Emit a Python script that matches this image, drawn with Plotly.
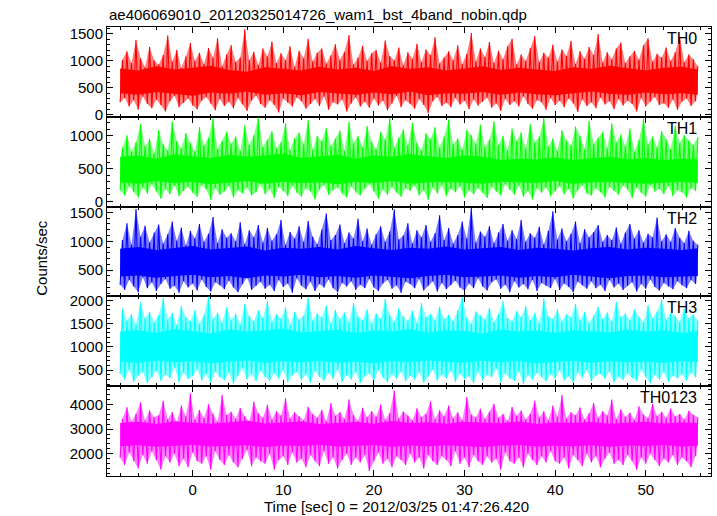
import plotly.graph_objects as go
from plotly.subplots import make_subplots

title_text = "ae406069010_20120325014726_wam1_bst_4band_nobin.qdp"
x_title = "Time [sec] 0 = 2012/03/25 01:47:26.420"
y_title = "Counts/sec"
t_start = -8.0
t_step = 0.25
t_end = 55.75
core_step = 2.0

panel_names = ["TH0", "TH1", "TH2", "TH3", "TH0123"]
panel_colors = ["#ff0000", "#00ff00", "#0000ff", "#00ffff", "#ff00ff"]
halo_colors = ["rgba(255,0,0,0.5)", "rgba(0,255,0,0.5)", "rgba(0,0,255,0.5)",
               "rgba(0,255,255,0.5)", "rgba(255,0,255,0.5)"]

th0 = [230,1020,310,1180,150,960,270,1390,90,1050,340,880,200,1260,120,1010,
280,930,180,1110,60,1470,250,990,350,1200,140,870,220,1080,300,1330,
170,1000,100,1150,260,940,330,1240,210,1060,80,1420,290,900,160,1120,
240,1290,120,980,310,1060,190,1590,70,1010,260,1170,350,920,200,1230,
130,1080,270,1360,180,960,40,1140,300,1010,220,1270,150,890,320,1190,
250,1050,110,1410,200,990,290,1150,160,1230,340,950,90,1100,230,1310,
190,1020,280,1170,60,1480,210,930,320,1060,150,1280,240,1000,130,1140,
300,1200,170,970,260,1380,80,1090,210,1010,350,1250,140,920,270,1160,
200,1040,110,1320,290,980,180,1210,30,1110,250,1440,330,950,160,1060,
220,1180,140,1010,310,1290,190,940,260,1130,100,1520,280,990,170,1230,
240,1070,320,1350,130,960,210,1190,70,1030,290,1270,180,1410,250,930,
150,1120,340,1000,200,1240,110,1460,270,980,230,1150,90,1060,310,1300,
180,990,260,1210,140,1090,300,1370,210,940,50,1180,280,1040,160,1260,
230,1110,120,1500,320,970,190,1160,250,1030,100,1230,290,1340,170,960,
260,1080,200,1190,60,1020,310,1290,150,1420,240,990,330,1130,180,1060,
210,1250,130,1000,280,1160,90,1440,240,980,300,1120,160,1030,250,900]

th1 = [170,820,90,1010,230,760,140,900,60,1180,210,840,120,950,260,730,
150,1090,40,870,190,780,110,1220,240,920,80,810,160,1040,220,890,
130,760,70,1130,250,850,180,970,20,1270,200,800,100,920,150,1060,
230,880,60,990,170,770,120,1160,210,860,90,1010,140,1280,260,830,
110,940,190,1070,50,810,220,900,160,1190,80,780,240,960,130,1050,
70,870,200,1240,150,790,30,1000,180,920,250,1120,100,840,170,960,
210,1080,120,770,60,1210,230,890,140,1000,90,830,190,1150,260,910,
150,800,40,1060,180,940,100,1270,220,820,130,970,70,1100,200,860,
160,1200,240,890,90,780,170,1040,20,950,210,1130,120,820,250,990,
80,1250,190,870,140,960,230,790,60,1090,170,1010,110,880,200,1170,
130,830,50,940,220,1220,150,860,90,1000,260,780,180,1110,100,920,
240,1050,70,810,160,1180,30,900,200,990,130,1270,210,840,80,960,
150,770,230,1080,110,930,190,850,40,1140,170,1000,250,790,120,1230,
90,880,200,970,140,1060,60,810,220,1190,160,900,100,1020,240,840,
180,1110,50,760,210,940,130,1260,70,870,250,990,150,820,190,1070,
110,950,230,800,80,1150,170,890,140,1010,60,930,200,860,160,980]

th2 = [250,1020,160,1310,330,940,220,1560,120,1080,380,1270,190,980,290,1150,
140,1290,260,960,350,1120,180,1340,230,1010,110,1240,310,930,200,1180,
270,1050,150,1300,340,990,210,1130,130,1420,290,970,240,1210,170,1060,
320,1140,200,1000,120,1330,260,950,380,1190,160,1070,230,1280,300,980,
180,1230,250,1010,140,1120,330,1370,210,940,270,1160,110,1050,360,1260,
230,990,170,1350,300,1080,140,950,260,1200,200,1480,340,1020,190,1110,
120,1290,280,970,220,1150,310,1050,160,1390,250,1000,190,1220,350,940,
200,1120,140,1260,270,990,330,1170,180,1550,240,1030,110,1100,300,1310,
260,960,190,1190,350,1070,150,1280,230,990,310,1140,130,1450,280,1020,
170,1230,240,960,320,1110,200,1340,140,1050,270,1580,190,980,360,1170,
220,1080,150,1260,290,970,340,1150,180,1300,250,1010,120,1190,310,1040,
200,1370,260,990,170,1140,330,1060,140,1250,280,950,230,1180,190,1520,
350,1030,160,1220,270,1000,210,1130,120,1340,300,970,240,1210,180,1070,
310,1160,190,1280,250,990,140,1110,330,1020,200,1240,270,960,160,1150,
230,1300,290,1050,130,1190,260,980,180,1130,340,1070,210,1410,150,1000,
280,1120,220,990,170,1230,310,1060,240,970,190,1180,330,1010,260,940]

th3 = [420,1820,300,1560,510,1700,250,1480,380,1960,460,1610,220,1750,350,1530,
490,1680,270,2050,400,1590,330,1730,560,1470,240,1880,440,1640,310,1550,
370,1790,520,1500,280,1690,410,2080,230,1600,470,1740,340,1520,290,1850,
450,1580,210,1710,380,1490,540,1920,300,1660,420,1550,260,1780,490,1620,
350,1990,270,1540,430,1700,320,1610,500,1850,240,1480,390,1750,460,1590,
290,1670,410,2060,230,1560,480,1720,360,1630,270,1890,440,1510,310,1800,
520,1600,250,1740,390,1530,300,1950,460,1660,220,1570,370,1810,430,1500,
280,1720,500,1610,340,2030,240,1690,410,1540,320,1830,470,1650,260,1560,
380,1780,300,1520,450,1940,230,1640,360,1710,510,1580,270,1870,400,1600,
330,1690,480,1550,250,1790,420,2070,310,1620,370,1500,220,1760,460,1680,
290,1590,400,1840,350,1530,530,1710,240,1980,430,1620,320,1550,270,1770,
470,1640,210,1880,390,1570,300,1730,440,1510,350,2040,260,1660,410,1600,
320,1810,490,1540,280,1700,370,1630,230,1920,450,1580,340,1750,500,1520,
260,1670,380,1860,420,1600,310,1740,470,1550,240,1970,360,1640,290,1710,
430,1570,330,1800,270,1650,510,1530,350,1890,220,1620,400,1760,300,2010,
460,1590,250,1730,380,1660,320,1540,410,1820,280,1610,440,1700,350,1560]

th0123 = [1850,3420,1550,3880,2050,3300,1700,3620,1400,4080,1950,3350,1600,3750,2100,3480,
1750,3560,1350,4150,1900,3400,1650,3690,2000,3280,1500,3950,1800,3520,1450,4450,
2050,3380,1700,3770,1600,3450,1900,4000,1350,3620,2100,3300,1750,4380,1550,3570,
1950,3700,1650,3420,1450,3850,1800,3520,2150,3310,1500,4100,1850,3640,1700,3460,
1600,3980,2000,3390,1350,3720,1750,3550,1900,4250,1550,3430,2050,3680,1650,3520,
1800,3360,1450,3900,1950,3610,1700,3460,1500,3780,2100,3320,1600,4050,1850,3540,
1400,3690,1750,3410,2000,4200,1550,3580,1850,3340,1650,3860,1950,3470,1300,3730,
1700,3500,2050,3990,1600,3380,1800,3650,1450,4560,1900,3430,1750,3710,1550,3550,
2000,3360,1650,3840,1850,3490,1400,3620,1950,4120,1700,3400,1550,3760,1900,3530,
1750,3950,1500,3440,2100,3680,1600,3370,1850,4300,1450,3590,1950,3480,1700,3820,
1550,3420,1900,3700,1650,4020,1800,3460,1350,3610,2050,3330,1700,3890,1600,3540,
1850,3750,1450,3400,2000,3620,1750,4150,1550,3480,1900,3720,1650,3360,2100,3950,
1700,3510,1600,4380,1850,3430,1400,3680,1950,3560,1750,3870,1500,3390,2000,3640,
1650,4050,1900,3460,1450,3730,1800,3550,2050,4200,1600,3410,1750,3800,1550,3500,
1950,3660,1700,3380,1350,3920,1850,3590,1600,3450,2000,4010,1750,3530,1500,3700,
1800,3460,1650,3830,1950,3520,1550,3610,1850,3400,1700,3740,1450,3580,1900,3480]

# dense (solid) core of each band, read every 2 s: upper and lower edges
th0_core_hi = [860,820,900,840,870,910,830,800,880,850,820,890,840,870,810,900,850,880,820,860,900,830,870,840,810,880,850,910,860,820,870,890,840]
th0_core_lo = [400,370,420,380,350,410,390,430,370,400,360,420,390,370,410,380,430,360,400,390,420,370,410,380,360,400,430,390,370,410,380,400,370]
th1_core_hi = [680,700,650,720,690,660,710,680,700,730,660,690,710,650,700,680,720,690,660,700,680,630,650,640,670,630,650,680,640,660,630,650,640]
th1_core_lo = [290,270,310,280,300,260,290,310,270,300,280,290,260,300,280,310,270,290,300,280,270,300,290,280,310,270,290,300,280,270,290,300,280]
th2_core_hi = [870,900,850,890,920,860,880,910,840,890,870,900,860,920,880,850,890,870,910,860,880,900,850,890,870,840,880,900,860,890,870,850,880]
th2_core_lo = [390,410,370,400,420,380,400,360,410,390,420,380,400,370,410,390,360,400,420,380,390,410,370,400,380,420,390,360,400,410,380,390,400]
th3_core_hi = [1330,1360,1300,1380,1340,1290,1370,1330,1350,1390,1310,1340,1370,1300,1350,1330,1380,1310,1360,1340,1290,1370,1330,1350,1300,1360,1340,1310,1370,1330,1350,1300,1340]
th3_core_lo = [680,660,700,670,690,650,680,710,660,690,670,700,660,680,650,690,670,710,680,660,700,670,690,650,680,700,660,690,670,680,660,690,670]
th0123_core_hi = [3250,3300,3200,3320,3260,3210,3280,3340,3230,3270,3310,3200,3260,3290,3220,3330,3250,3280,3210,3300,3260,3240,3310,3200,3270,3250,3290,3220,3260,3300,3230,3270,3250]
th0123_core_lo = [2300,2350,2280,2330,2360,2290,2320,2340,2270,2330,2310,2360,2290,2320,2350,2280,2330,2300,2340,2310,2270,2330,2350,2290,2320,2300,2340,2280,2330,2310,2350,2290,2320]

series = [th0, th1, th2, th3, th0123]
cores_hi = [th0_core_hi, th1_core_hi, th2_core_hi, th3_core_hi, th0123_core_hi]
cores_lo = [th0_core_lo, th1_core_lo, th2_core_lo, th3_core_lo, th0123_core_lo]
y_ranges = [[-40, 1630], [-80, 1290], [47, 1600], [155, 2085], [1100, 4735]]
y_dticks = [500, 500, 500, 500, 1000]
y_minor = [100, 100, 100, 100, 200]
x_range = [-9.45, 57.2]

times = [t_start + t_step * i for i in range(len(th0))]
core_times = [min(t_start + core_step * i, t_end) for i in range(len(th0_core_hi))]

FONT = "Liberation Sans, Arial, Helvetica, sans-serif"

fig = make_subplots(rows=5, cols=1, shared_xaxes=True, vertical_spacing=0)

for k, (ys, col) in enumerate(zip(series, panel_colors)):
    # pale envelope spanned by the light curve's own dips (even samples) and peaks (odd samples)
    dip_t, dip_y = times[0::2], ys[0::2]
    peak_t, peak_y = times[1::2], ys[1::2]
    fig.add_trace(go.Scatter(x=peak_t + dip_t[::-1], y=peak_y + dip_y[::-1],
                             mode="lines", fill="toself", fillcolor=halo_colors[k],
                             line=dict(width=0), showlegend=False, hoverinfo="skip"),
                  row=k + 1, col=1)
    fig.add_trace(go.Scatter(x=core_times + core_times[::-1],
                             y=cores_hi[k] + cores_lo[k][::-1],
                             mode="lines", fill="toself", fillcolor=col,
                             line=dict(color=col, width=0),
                             showlegend=False, hoverinfo="skip"),
                  row=k + 1, col=1)
    fig.add_trace(go.Scatter(x=times, y=ys, mode="lines",
                             line=dict(color=col, width=1.1),
                             showlegend=False, hoverinfo="skip"),
                  row=k + 1, col=1)

for k in range(5):
    fig.update_xaxes(range=x_range, showline=True, linecolor="black", linewidth=1,
                     mirror="ticks", ticks="inside", ticklen=6, tickcolor="black",
                     dtick=10, tick0=0, showgrid=False, zeroline=False,
                     minor=dict(dtick=2, tick0=0, ticks="inside", ticklen=3, tickcolor="black"),
                     showticklabels=(k == 4),
                     tickfont=dict(family=FONT, size=15, color="black"),
                     row=k + 1, col=1)
    fig.update_yaxes(range=y_ranges[k], showline=True, linecolor="black", linewidth=1,
                     mirror="ticks", ticks="inside", ticklen=6, tickcolor="black",
                     dtick=y_dticks[k], tick0=0, showgrid=False, zeroline=False,
                     minor=dict(dtick=y_minor[k], tick0=0, ticks="inside", ticklen=3, tickcolor="black"),
                     tickfont=dict(family=FONT, size=15, color="black"),
                     row=k + 1, col=1)

annotations = []
for k, name in enumerate(panel_names):
    yaxis_name = "y domain" if k == 0 else f"y{k+1} domain"
    annotations.append(dict(text=name, xref="paper", yref=yaxis_name, x=1, y=1,
                            xanchor="right", yanchor="top", xshift=-12, yshift=-1,
                            showarrow=False, font=dict(family=FONT, size=16, color="black")))
annotations.append(dict(text=title_text, xref="paper", yref="paper", x=0, y=1,
                        xanchor="left", yanchor="bottom", yshift=2, showarrow=False,
                        font=dict(family=FONT, size=15, color="black")))
annotations.append(dict(text=x_title, xref="paper", yref="paper", x=0.48, y=0,
                        xanchor="center", yanchor="top", yshift=-20, showarrow=False,
                        font=dict(family=FONT, size=15, color="black")))
annotations.append(dict(text=y_title, xref="paper", yref="paper", x=0, y=0.486,
                        xanchor="center", yanchor="middle", xshift=-65, textangle=-90,
                        showarrow=False, font=dict(family=FONT, size=15, color="black")))

fig.update_layout(width=717, height=516, margin=dict(l=107, r=6, t=27, b=40),
                  paper_bgcolor="white", plot_bgcolor="white",
                  annotations=annotations)

fig.write_html("out.html", config={"displayModeBar": False},
               post_script="document.body.style.margin='0';document.body.style.padding='0';")
